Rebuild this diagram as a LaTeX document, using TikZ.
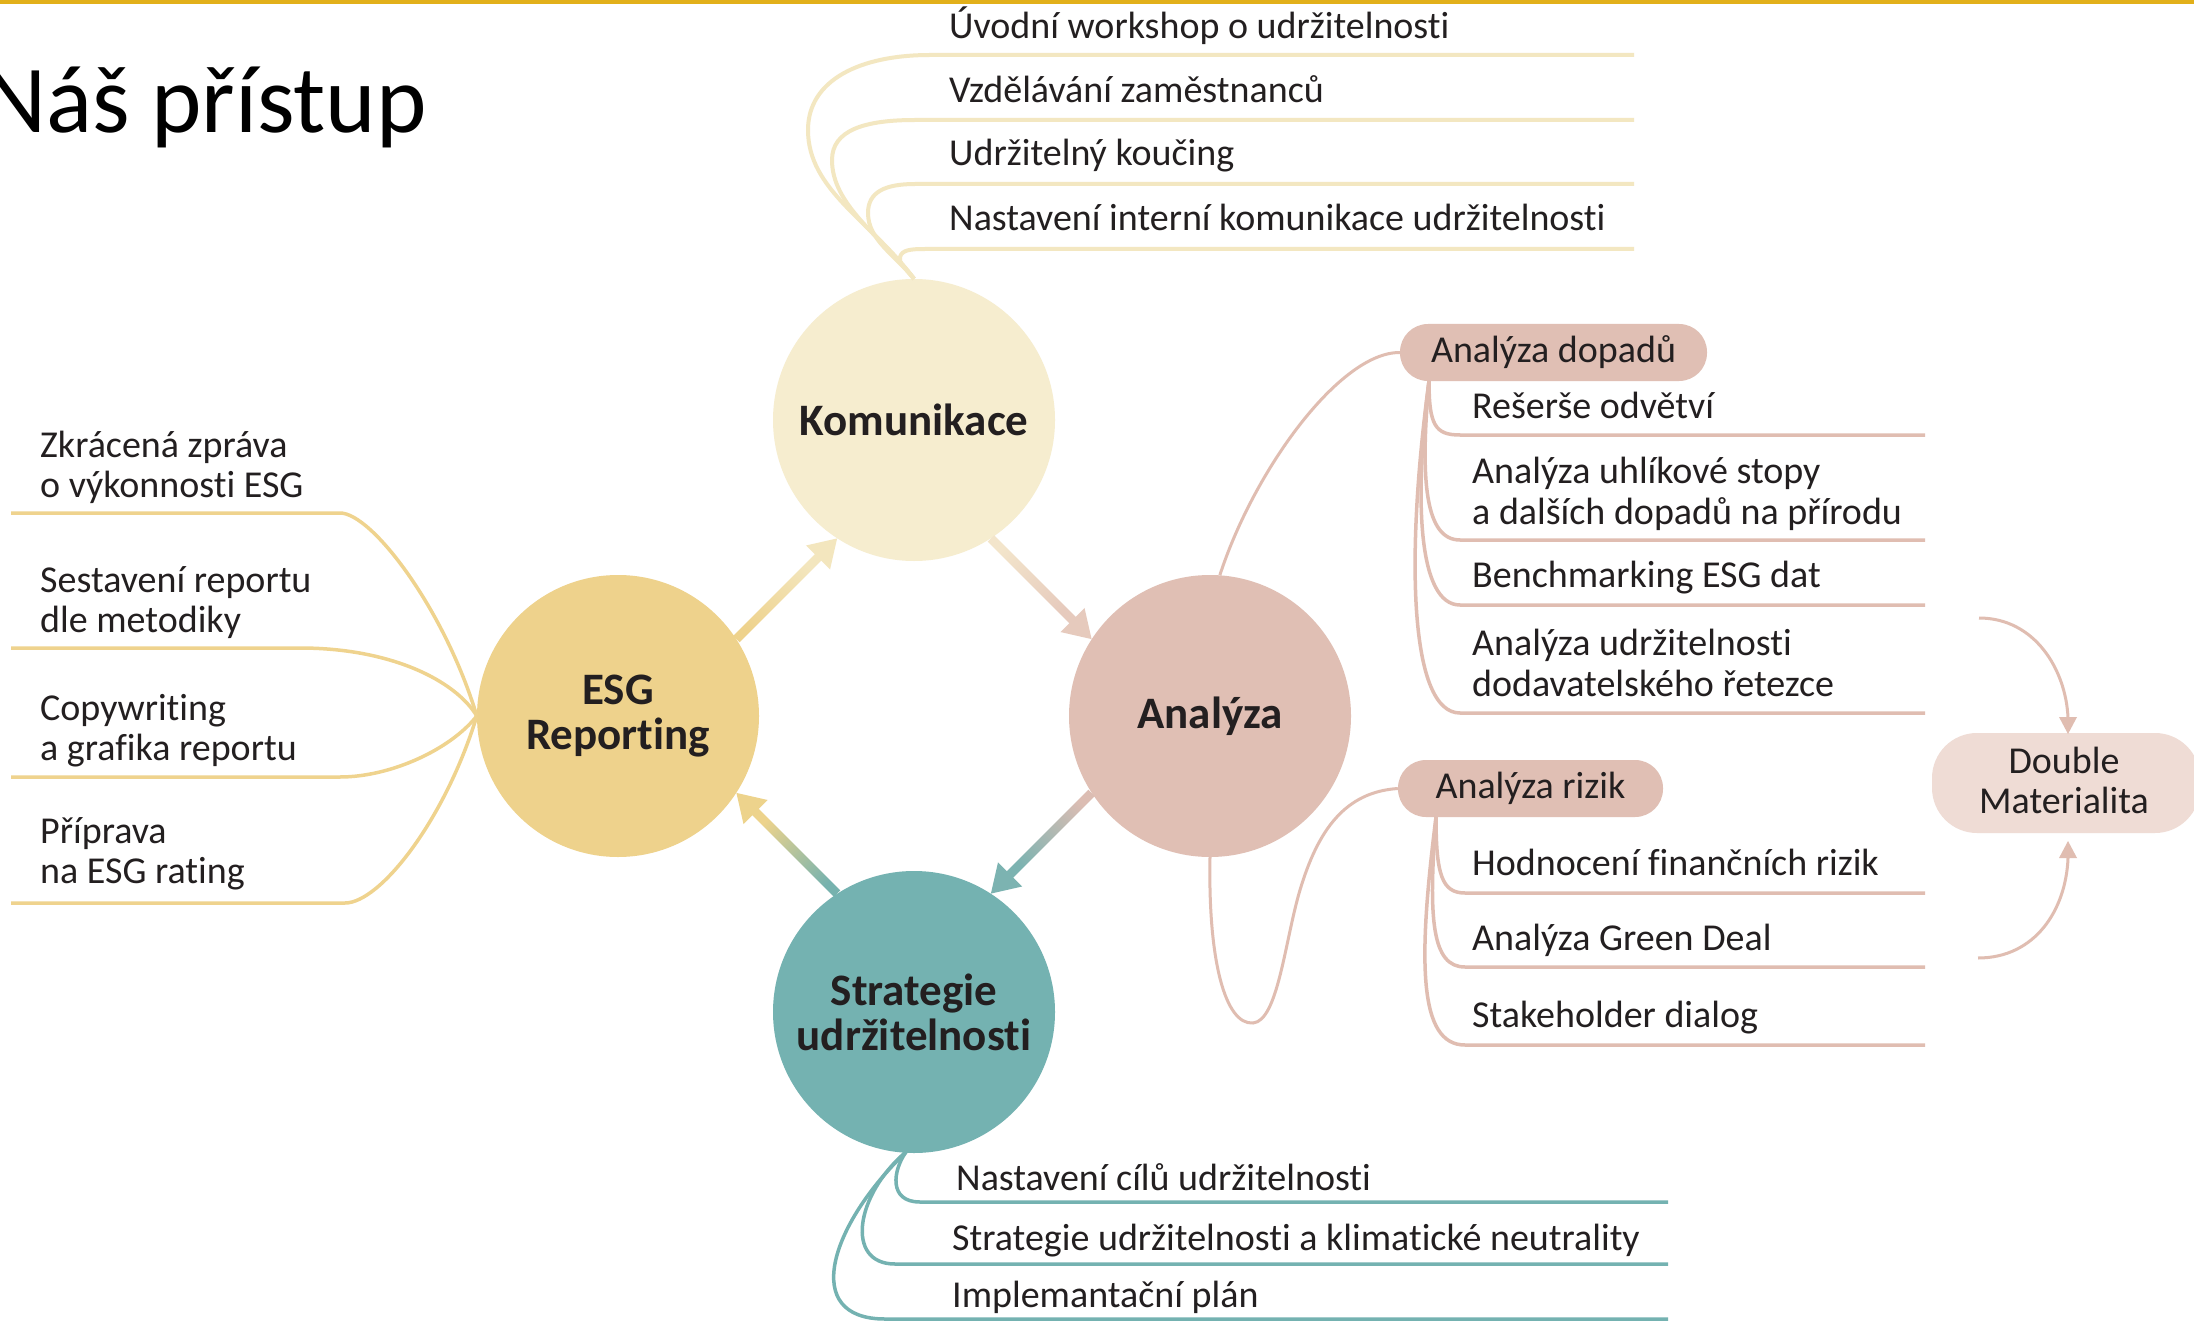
\documentclass[tikz,border=0pt]{standalone}
\usepackage{fontspec}
\setmainfont{Carlito}[Ligatures={NoCommon}]
\usetikzlibrary{calc}
\definecolor{gold}{HTML}{E2B01A}
\definecolor{komc}{HTML}{F6EDCF}
\definecolor{koml}{HTML}{F3E7C1}
\definecolor{esgc}{HTML}{EED28C}
\definecolor{esgl}{HTML}{EFD38E}
\definecolor{anac}{HTML}{E0BFB4}
\definecolor{anal}{HTML}{E0BDB1}
\definecolor{dmc}{HTML}{EFDCD5}
\definecolor{strc}{HTML}{74B2B1}
\definecolor{txt}{HTML}{231F20}
\definecolor{gA}{HTML}{F3E6BE}
\definecolor{gB}{HTML}{F3E5CB}
\definecolor{gC}{HTML}{E6CABD}
\definecolor{gD}{HTML}{DCBDB3}
\definecolor{gE}{HTML}{7CB3B1}
\definecolor{gF}{HTML}{76B2AE}
\definecolor{gG}{HTML}{EDD38C}
\tikzset{
  hub/.style={circle, minimum size=282pt, inner sep=0pt, draw=none,
    font=\fontsize{45}{45}\bfseries\selectfont, text=txt, align=center},
  lbl/.style={anchor=base west, inner sep=0pt, font=\fontsize{38}{44}\selectfont, text=txt},
  ctr/.style={anchor=base, inner sep=0pt, font=\fontsize{38}{44}\selectfont, text=txt},
  pill/.style={rectangle, rounded corners=28pt, fill=anac, minimum height=57pt, inner sep=0pt,
    font=\fontsize{38}{44}\selectfont, text=txt, text height=22pt, text depth=2pt},
  kline/.style={draw=koml, line width=4pt},
  eline/.style={draw=esgl, line width=3.5pt},
  aline/.style={draw=anal, line width=3.5pt},
  acurve/.style={draw=anal, line width=3pt},
  sline/.style={draw=strc, line width=3.5pt},
}
\newcommand{\gradarrow}[6]{%
  \coordinate (#1-m) at ($(#3)!26pt!(#2)$);
  \coordinate (#1-h) at ($(#3)!27pt!(#2)$);
  \shade[top color=#4, bottom color=#5, shading angle=#6]
    ($(#2)!4.5pt!90:(#3)$) -- ($(#2)!4.5pt!-90:(#3)$) --
    ($(#1-m)!4.5pt!90:(#2)$) -- ($(#1-m)!4.5pt!-90:(#2)$) -- cycle;
  \fill[#5] (#3) -- ($(#1-h)!17pt!90:(#2)$) -- ($(#1-h)!17pt!-90:(#2)$) -- cycle;
}
\begin{document}
\begin{tikzpicture}[x=1pt,y=-1pt]
\useasboundingbox (0,0) rectangle (2194,1321);
\fill[white] (0,0) rectangle (2194,1321);
\fill[gold] (0,0) rectangle (2194,4);
\node[anchor=base west, inner sep=0pt, font=\fontsize{96}{96}\selectfont, text=black] (title) at (-16,133) {Náš přístup};

% hubs
\node[hub, fill=komc] (kom) at (914,420) {Komunikace};
\node[hub, fill=esgc] (esg) at (618,716) {ESG\\Reporting};
\node[hub, fill=anac] (ana) at (1210,716) {Analýza};
\node[hub, fill=strc] (str) at (914,1012) {Strategie\\udržitelnosti};

% hub arrows
\coordinate (a1s) at (esg.33);  \coordinate (a1e) at (kom.237);
\coordinate (a2s) at (kom.-57); \coordinate (a2e) at (ana.147);
\coordinate (a3s) at (ana.213); \coordinate (a3e) at (str.57);
\coordinate (a4s) at (str.123); \coordinate (a4e) at (esg.-33);
\gradarrow{g1}{a1s}{a1e}{esgc}{gA}{135}
\gradarrow{g2}{a2s}{a2e}{gB}{gC}{45}
\gradarrow{g3}{a3s}{a3e}{gD}{gE}{315}
\gradarrow{g4}{a4s}{a4e}{gF}{gG}{225}

% Komunikace branches
\coordinate (k1) at (1634,55);
\coordinate (k2) at (1634,120);
\coordinate (k3) at (1634,184);
\coordinate (k4) at (1634,249);
\draw[kline] (kom.north) .. controls (870,220) and (808,190) .. (808,130)
  .. controls (808,80) and (860,55) .. (930,55) -- (k1);
\draw[kline] (kom.north) .. controls (880,235) and (832,205) .. (832,160)
  .. controls (832,130) and (865,120) .. (915,120) -- (k2);
\draw[kline] (kom.north) .. controls (895,255) and (868,240) .. (868,213)
  .. controls (868,192) and (885,184) .. (915,184) -- (k3);
\draw[kline] (kom.north) .. controls (905,268) and (898,262) .. (900,257)
  .. controls (902,250) and (910,249) .. (925,249) -- (k4);
\node[lbl] (kt1) at (949,39) {Úvodní workshop o udržitelnosti};
\node[lbl] (kt2) at (949,103) {Vzdělávání zaměstnanců};
\node[lbl] (kt3) at (949,166) {Udržitelný koučing};
\node[lbl] (kt4) at (949,231) {Nastavení interní komunikace udržitelnosti};

% ESG branches
\coordinate (e1) at (11,513);
\coordinate (e2) at (11,648);
\coordinate (e3) at (11,777);
\coordinate (e4) at (11,903);
\draw[eline] (e1) -- (340,513) .. controls (372,513) and (445,610) .. (esg.west);
\draw[eline] (e2) -- (300,648) .. controls (390,648) and (455,680) .. (esg.west);
\draw[eline] (e3) -- (340,777) .. controls (390,777) and (450,750) .. (esg.west);
\draw[eline] (e4) -- (345,903) .. controls (380,903) and (445,820) .. (esg.west);
\node[lbl] (et1a) at (40,457) {Zkrácená zpráva};
\node[lbl] (et1b) at (40,497) {o výkonnosti ESG};
\node[lbl] (et2a) at (40,592) {Sestavení reportu};
\node[lbl] (et2b) at (40,632) {dle metodiky};
\node[lbl] (et3a) at (40,720) {Copywriting};
\node[lbl] (et3b) at (40,760) {a grafika reportu};
\node[lbl] (et4a) at (40,843) {Příprava};
\node[lbl] (et4b) at (40,883) {na ESG rating};

% Analyza dopadu
\node[pill, minimum width=307pt] (dop) at (1553.5,352.5) {Analýza dopadů};
\draw[acurve] (ana.86) .. controls (1254,470) and (1340,352) .. (dop.west);
\coordinate (droot) at (1429,381);
\coordinate (d1) at (1925,435);
\coordinate (d2) at (1925,540);
\coordinate (d3) at (1925,605);
\coordinate (d4) at (1925,713);
\draw[aline] (droot) .. controls (1429,425) and (1435,435) .. (1460,435) -- (d1);
\draw[aline] (droot) .. controls (1420,480) and (1425,540) .. (1460,540) -- (d2);
\draw[aline] (droot) .. controls (1414,500) and (1418,605) .. (1460,605) -- (d3);
\draw[aline] (droot) .. controls (1405,560) and (1410,713) .. (1460,713) -- (d4);
\node[lbl] (dt1) at (1472,418) {Rešerše odvětví};
\node[lbl] (dt2a) at (1472,483) {Analýza uhlíkové stopy};
\node[lbl] (dt2b) at (1472,524) {a dalších dopadů na přírodu};
\node[lbl] (dt3) at (1472,587) {Benchmarking ESG dat};
\node[lbl] (dt4a) at (1472,655) {Analýza udržitelnosti};
\node[lbl] (dt4b) at (1472,696) {dodavatelského řetezce};

% Analyza rizik
\node[pill, minimum width=265pt] (riz) at (1530.5,788.5) {Analýza rizik};
\draw[acurve] (ana.south) .. controls (1208,960) and (1225,1025) .. (1253,1023)
  .. controls (1278,1021) and (1285,940) .. (1300,890)
  .. controls (1318,830) and (1345,792) .. (riz.west);
\coordinate (rroot) at (1436,817);
\coordinate (r1) at (1925,893);
\coordinate (r2) at (1925,967);
\coordinate (r3) at (1925,1045);
\draw[aline] (rroot) .. controls (1436,875) and (1442,893) .. (1465,893) -- (r1);
\draw[aline] (rroot) .. controls (1428,920) and (1432,967) .. (1465,967) -- (r2);
\draw[aline] (rroot) .. controls (1418,960) and (1418,1045) .. (1465,1045) -- (r3);
\node[lbl] (rt1) at (1472,875) {Hodnocení finančních rizik};
\node[lbl] (rt2) at (1472,950) {Analýza Green Deal};
\node[lbl] (rt3) at (1472,1027) {Stakeholder dialog};

% Double Materialita
\node[rectangle, rounded corners=45pt, fill=dmc, minimum width=268pt, minimum height=100pt, inner sep=0pt] (dm) at (2066,783) {};
\node[ctr] (dmt1) at (2064,773) {Double};
\node[ctr] (dmt2) at (2064,813) {Materialita};
\coordinate (dma) at (1979,618);
\coordinate (dmb) at (1978,958);
\coordinate (dmtop) at (2068,734);
\coordinate (dmbot) at (2068,841);
\draw[acurve] (dma) .. controls (2035,618) and (2066,670) .. (2068,718);
\fill[anal] (dmtop) -- (2059,717) -- (2077,717) -- cycle;
\draw[acurve] (dmb) .. controls (2035,958) and (2066,910) .. (2068,858);
\fill[anal] (dmbot) -- (2059,858) -- (2077,858) -- cycle;

% Strategie branches
\coordinate (s1) at (1668,1202);
\coordinate (s2) at (1668,1264);
\coordinate (s3) at (1668,1319);
\coordinate (sroot) at (906,1152);
\draw[sline] (sroot) .. controls (893,1170) and (888,1202) .. (920,1202) -- (s1);
\draw[sline] (sroot) .. controls (855,1195) and (845,1264) .. (895,1264) -- (s2);
\draw[sline] (sroot) .. controls (830,1225) and (800,1319) .. (885,1319) -- (s3);
\node[lbl] (st1) at (956,1190) {Nastavení cílů udržitelnosti};
\node[lbl] (st2) at (952,1250) {Strategie udržitelnosti a klimatické neutrality};
\node[lbl] (st3) at (952,1307) {Implemantační plán};
\end{tikzpicture}
\end{document}
